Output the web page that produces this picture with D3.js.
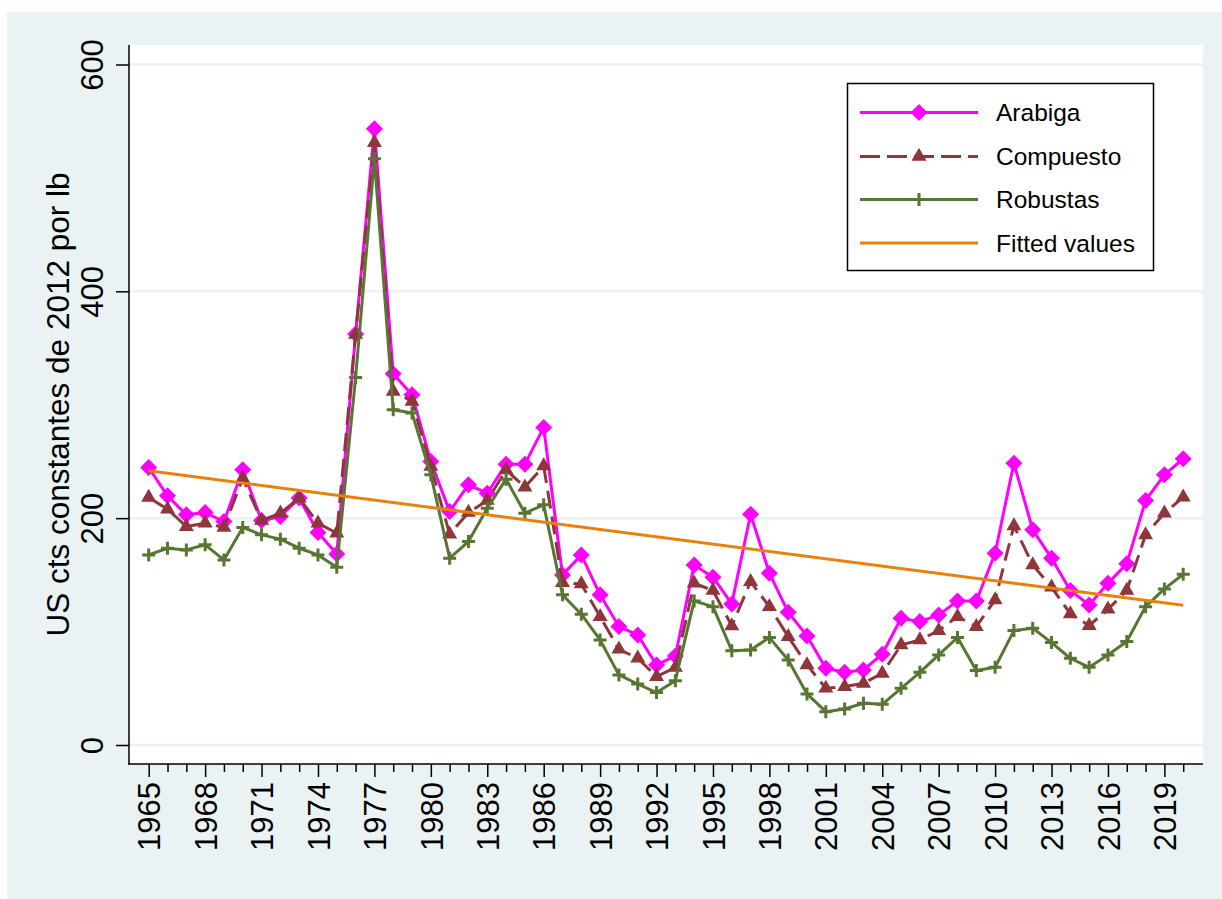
<!DOCTYPE html>
<html>
<head>
<meta charset="utf-8">
<script src="https://cdn.jsdelivr.net/npm/d3@7"></script>
<style>
  html, body { margin: 0; padding: 0; background: #ffffff; }
  svg { display: block; }
  text { font-family: "Liberation Sans", Arial, sans-serif; fill: #000; }
</style>
</head>
<body>
<svg id="chart" width="1222" height="899"></svg>
<script>
// ---------------- data ----------------
const years = d3.range(1965, 2021);
const arabiga = [244.7,219.7,203,205,197,242.6,198,201.5,217.7,187.4,168.5,362.4,543.3,327.4,308.8,250,
  205.9,229.4,222,247.6,247.6,280,150,167.6,132.4,104.4,97,70.6,78.5,158.8,148,124.4,203.5,151.5,117,96.2,
  67.6,64.1,66.2,80,111.8,108.8,114.7,127,127,169.1,248.5,189.7,164.7,136.2,123.5,142.6,159.7,215.6,238.2,252.4];
const compuesto = [218.2,208,192.6,195.6,191.8,235,198,204.4,217.7,195.6,186.8,362,531,311.8,303,245.6,
  186,205,215.6,242.6,227.4,246,143.2,142,113.2,84.4,76.5,60.3,68.5,142.6,136.2,105,144,122,95.6,70.6,
  50,51.5,54.4,63.2,88.2,92.6,100.9,113.2,104.4,128,193.2,158.8,139.1,115.6,105.3,119.7,136.2,185.3,204.4,218.5];
const robustas = [167.6,173.5,172,176.5,163.2,191.8,185.3,181.5,173.5,167.6,156.8,324,517,295.6,292.7,238.2,
  164.7,179.4,208.8,234.4,204.4,211.8,132.4,115.3,92.6,61.8,53.8,46.2,56.7,127,122,83.2,83.8,94.7,75,45,
  29.4,31.8,36.8,35.9,50,64.1,79.4,94.7,65.6,68.5,100.9,103,90.3,76.5,68.5,79.4,91.2,122,137.6,150.6];
const fittedYears = [1965, 2020];
const fittedValues = [241.8, 123.3];
const yTicks = [0, 200, 400, 600];
const xMajorTicks = d3.range(1965, 2020, 3);
const seriesNames = ["Arabiga", "Compuesto", "Robustas", "Fitted values"];
const yTitle = "US cts constantes de 2012 por lb";

// ---------------- layout ----------------
const svg = d3.select("#chart");
const W = 1222, H = 899;
const plot = { left: 129, top: 45, right: 1203, bottom: 764 };
const bg = "#eaf2f3";
const colors = { arabiga: "#ff00ff", compuesto: "#8e363c", robustas: "#577632", fitted: "#e8820c" };

svg.append("rect").attr("x", 7).attr("y", 12).attr("width", W - 7).attr("height", H - 12).attr("fill", bg);
svg.append("rect").attr("x", plot.left).attr("y", plot.top)
  .attr("width", plot.right - plot.left).attr("height", plot.bottom - plot.top).attr("fill", "#ffffff");

const x = d3.scaleLinear().domain([1965, 2020]).range([148.7, 1183.2]);
const y = d3.scaleLinear().domain([0, 600]).range([745, 64.5]);

// gridlines
svg.append("g").selectAll("line").data(yTicks).join("line")
  .attr("x1", plot.left).attr("x2", plot.right)
  .attr("y1", d => y(d)).attr("y2", d => y(d))
  .attr("stroke", bg).attr("stroke-width", 2.5);

// y axis
const yAxis = svg.append("g").attr("transform", `translate(${plot.left},0)`)
  .call(d3.axisLeft(y).tickValues(yTicks).tickSize(13).tickFormat(d3.format("d")));
yAxis.select(".domain").remove();
yAxis.selectAll(".tick line").attr("stroke", "#000").attr("stroke-width", 1.5);
yAxis.selectAll(".tick text")
  .attr("x", null).attr("dy", null)
  .attr("transform", "translate(-26,0) rotate(-90)")
  .attr("text-anchor", "middle")
  .style("font-size", "31px").style("font-family", "Liberation Sans, Arial, sans-serif").attr("fill", "#000");
svg.append("line").attr("x1", plot.left).attr("x2", plot.left).attr("y1", plot.top).attr("y2", plot.bottom + 0.75)
  .attr("stroke", "#000").attr("stroke-width", 1.5);

// x axis minor ticks
const xMinor = svg.append("g").attr("transform", `translate(0,${plot.bottom})`)
  .call(d3.axisBottom(x).tickValues(years.filter(d => (d - 1965) % 3 !== 0)).tickSize(8).tickFormat(""));
xMinor.select(".domain").remove();
xMinor.selectAll(".tick line").attr("stroke", "#000").attr("stroke-width", 1.5);

// x axis major ticks
const xAxis = svg.append("g").attr("transform", `translate(0,${plot.bottom})`)
  .call(d3.axisBottom(x).tickValues(xMajorTicks).tickSize(13).tickFormat(d3.format("d")));
xAxis.select(".domain").remove();
xAxis.selectAll(".tick line").attr("stroke", "#000").attr("stroke-width", 1.5);
xAxis.selectAll(".tick text")
  .attr("y", null).attr("dy", "0.36em")
  .attr("transform", "translate(0,18) rotate(-90)")
  .attr("text-anchor", "end")
  .style("font-size", "31px").style("font-family", "Liberation Sans, Arial, sans-serif").attr("fill", "#000");
svg.append("line").attr("x1", plot.left - 0.75).attr("x2", plot.right).attr("y1", plot.bottom).attr("y2", plot.bottom)
  .attr("stroke", "#000").attr("stroke-width", 1.5);

// y title
svg.append("text")
  .attr("transform", `translate(69,${(plot.top + plot.bottom) / 2}) rotate(-90)`)
  .attr("text-anchor", "middle")
  .style("font-size", "31.5px")
  .text(yTitle);

// ---------------- marks ----------------
const diamondPath = (r) => `M0,${-r}L${r},0L0,${r}L${-r},0Z`;
const trianglePath = (s) => { const h = s * Math.sqrt(3) / 2; return `M0,${-2 * h / 3}L${s / 2},${h / 3}L${-s / 2},${h / 3}Z`; };
const plusPath = (r) => `M${-r},0L${r},0M0,${-r}L0,${r}`;

const line = d3.line().x(d => x(d[0])).y(d => y(d[1]));
const zip = (vals) => years.map((yr, i) => [yr, vals[i]]);

function drawSeries(vals, color, dash, marker) {
  const g = svg.append("g");
  g.append("path").datum(zip(vals)).attr("d", line)
    .attr("fill", "none").attr("stroke", color).attr("stroke-width", 3)
    .attr("stroke-dasharray", dash).attr("stroke-linejoin", "round");
  const pts = g.selectAll(".m").data(zip(vals)).join("path")
    .attr("transform", d => `translate(${x(d[0])},${y(d[1])})`);
  if (marker === "diamond") pts.attr("d", diamondPath(8.5)).attr("fill", color);
  if (marker === "triangle") pts.attr("d", trianglePath(15)).attr("fill", color);
  if (marker === "plus") pts.attr("d", plusPath(6.5)).attr("fill", "none").attr("stroke", color).attr("stroke-width", 3);
}

drawSeries(arabiga, colors.arabiga, null, "diamond");
drawSeries(compuesto, colors.compuesto, "18,8", "triangle");
drawSeries(robustas, colors.robustas, null, "plus");

svg.append("path").datum(fittedYears.map((yr, i) => [yr, fittedValues[i]])).attr("d", line)
  .attr("fill", "none").attr("stroke", colors.fitted).attr("stroke-width", 3);

// ---------------- legend ----------------
const lg = svg.append("g");
lg.append("rect").attr("x", 847.5).attr("y", 83.5).attr("width", 306).attr("height", 187)
  .attr("fill", "#fff").attr("stroke", "#000").attr("stroke-width", 1.5);
const rowsY = [112.5, 156.5, 199.5, 243];
const legendItems = [
  { name: seriesNames[0], color: colors.arabiga, dash: null, marker: "diamond" },
  { name: seriesNames[1], color: colors.compuesto, dash: "20,7", marker: "triangle" },
  { name: seriesNames[2], color: colors.robustas, dash: null, marker: "plus" },
  { name: seriesNames[3], color: colors.fitted, dash: null, marker: null }
];
legendItems.forEach((it, i) => {
  const yy = rowsY[i];
  lg.append("line").attr("x1", 860).attr("x2", 978).attr("y1", yy).attr("y2", yy)
    .attr("stroke", it.color).attr("stroke-width", 3).attr("stroke-dasharray", it.dash);
  const m = lg.append("path").attr("transform", `translate(919,${yy})`);
  if (it.marker === "diamond") m.attr("d", diamondPath(8.5)).attr("fill", it.color);
  else if (it.marker === "triangle") m.attr("d", trianglePath(15)).attr("fill", it.color);
  else if (it.marker === "plus") m.attr("d", plusPath(6.5)).attr("fill", "none").attr("stroke", it.color).attr("stroke-width", 3);
  else m.remove();
  lg.append("text").attr("x", 996).attr("y", yy).attr("dy", "0.36em")
    .style("font-size", "24.5px").text(it.name);
});
</script>
</body>
</html>
